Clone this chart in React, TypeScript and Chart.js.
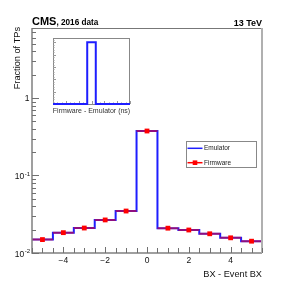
import React, { useEffect, useRef } from 'react';
import { Chart, registerables } from 'chart.js';

Chart.register(...registerables);

// ---- data ----
const binCenters = [-5, -4, -3, -2, -1, 0, 1, 2, 3, 4, 5];
const emulatorValues = [0.0149, 0.0183, 0.021, 0.0267, 0.0348, 0.375, 0.0209, 0.0198, 0.0177, 0.0157, 0.0142];
const firmwareValues = [0.0149, 0.0183, 0.021, 0.0267, 0.0348, 0.375, 0.0209, 0.0198, 0.0177, 0.0157, 0.0142];
const seriesNames = ['Emulator', 'Firmware'];
const xTickValues = [-4, -2, 0, 2, 4];
const yTickValues = [0.01, 0.1, 1];
const yTickBases = ['10', '10', '1'];
const yTickExps = ['-2', '-1', ''];
const insetCenters = [-4, -3, -2, -1, 0, 1, 2, 3, 4];
const insetValues = [0, 0, 0, 0, 1, 0, 0, 0, 0];

const FONT = '"Liberation Sans", Arial, Helvetica, sans-serif';
const BLUE = 'rgb(30,30,255)';
const RED = 'rgb(255,0,0)';

function stepPoints(centers: number[], values: number[]) {
  const pts = centers.map((c, i) => ({ x: c - 0.5, y: values[i] }));
  pts.push({ x: centers[centers.length - 1] + 0.5, y: values[values.length - 1] });
  return pts;
}

function barSegments(centers: number[], values: number[]) {
  const pts: { x: number; y: number | null }[] = [];
  centers.forEach((c, i) => {
    pts.push({ x: c - 0.5, y: values[i] });
    pts.push({ x: c + 0.5, y: values[i] });
    pts.push({ x: c + 0.5, y: null });
  });
  return pts;
}

const mainDecor = {
  id: 'mainDecor',
  afterDraw(chart: any) {
    const ctx = chart.ctx;
    const { left, right, top, bottom } = chart.chartArea;
    const xs = chart.scales.x;
    const ys = chart.scales.y;
    ctx.save();
    // frame
    ctx.strokeStyle = '#808080';
    ctx.lineWidth = 1.5;
    ctx.beginPath();
    ctx.moveTo(left, top);
    ctx.lineTo(left, bottom);
    ctx.lineTo(right, bottom);
    ctx.stroke();
    ctx.lineWidth = 1;
    ctx.strokeStyle = '#777';
    ctx.beginPath();
    ctx.moveTo(left, top + 0.5);
    ctx.lineTo(right, top + 0.5);
    ctx.stroke();
    ctx.lineWidth = 2;
    ctx.strokeStyle = '#b0b0b0';
    ctx.beginPath();
    ctx.moveTo(right, top);
    ctx.lineTo(right, bottom);
    ctx.stroke();

    // x ticks (inside)
    ctx.strokeStyle = '#707070';
    ctx.lineWidth = 1;
    for (let v = -5.5; v <= 5.5001; v += 0.5) {
      const px = Math.round(xs.getPixelForValue(v)) + 0.5;
      const len = Math.abs(v % 2) < 1e-6 ? 6 : 5;
      ctx.beginPath();
      ctx.moveTo(px, bottom);
      ctx.lineTo(px, bottom - len);
      ctx.stroke();
    }
    // y ticks (inside)
    for (let d = -2; d <= 0; d++) {
      for (let m = 1; m <= 9; m++) {
        const v = m * Math.pow(10, d);
        if (v > ys.max) continue;
        const py = Math.round(ys.getPixelForValue(v)) + 0.5;
        const len = m === 1 ? 7 : 4;
        ctx.beginPath();
        ctx.moveTo(left, py);
        ctx.lineTo(left + len, py);
        ctx.stroke();
      }
    }

    // y tick labels with superscripts
    ctx.fillStyle = '#111';
    ctx.textBaseline = 'alphabetic';
    ctx.textAlign = 'left';
    yTickValues.forEach((v, i) => {
      const py = ys.getPixelForValue(v);
      const base = yTickBases[i];
      const exp = yTickExps[i];
      ctx.font = `6px ${FONT}`;
      const we = exp ? ctx.measureText(exp).width : 0;
      ctx.font = `8.5px ${FONT}`;
      const wb = ctx.measureText(base).width;
      const rightEdge = 30;
      if (exp) {
        ctx.fillText(base, rightEdge - we - wb - 0.5, py + 4);
        ctx.font = `6px ${FONT}`;
        ctx.fillText(exp, rightEdge - we, py + 0.3);
      } else {
        ctx.fillText(base, rightEdge - wb - 0.5, py + 3);
      }
    });

    // titles
    ctx.fillStyle = '#111';
    ctx.font = `9.2px ${FONT}`;
    ctx.textAlign = 'right';
    ctx.fillText('BX - Event BX', right, 276.5);
    ctx.save();
    ctx.translate(19.5, top - 1);
    ctx.rotate(-Math.PI / 2);
    ctx.textAlign = 'right';
    ctx.fillText('Fraction of TPs', 0, 0);
    ctx.restore();

    ctx.fillStyle = '#000';
    ctx.textAlign = 'left';
    ctx.font = `bold 11px ${FONT}`;
    ctx.fillText('CMS', left, 25.2);
    const wc = ctx.measureText('CMS').width;
    ctx.font = `bold 8.2px ${FONT}`;
    ctx.fillText(', 2016 data', left + wc, 25.2);
    ctx.textAlign = 'right';
    ctx.font = `bold 9px ${FONT}`;
    ctx.fillText('13 TeV', right, 25.8);

    // legend
    const lx = 186, ly = 141, lw = 70, lh = 26;
    ctx.fillStyle = '#fff';
    ctx.fillRect(lx, ly, lw, lh);
    ctx.strokeStyle = '#888';
    ctx.lineWidth = 1;
    ctx.strokeRect(lx + 0.5, ly + 0.5, lw, lh);
    const rows = [148.3, 162.7];
    ctx.lineWidth = 1.5;
    ctx.strokeStyle = BLUE;
    ctx.beginPath();
    ctx.moveTo(187.5, rows[0]);
    ctx.lineTo(202.5, rows[0]);
    ctx.stroke();
    ctx.strokeStyle = RED;
    ctx.beginPath();
    ctx.moveTo(187.5, rows[1]);
    ctx.lineTo(202.5, rows[1]);
    ctx.stroke();
    ctx.fillStyle = RED;
    ctx.fillRect(195 - 2.3, rows[1] - 2.3, 4.6, 4.6);
    ctx.fillStyle = '#222';
    ctx.textAlign = 'left';
    ctx.textBaseline = 'middle';
    ctx.font = `6.5px ${FONT}`;
    ctx.fillText(seriesNames[0], 204, rows[0] + 0.3);
    ctx.fillText(seriesNames[1], 204, rows[1] + 0.3);
    ctx.restore();
  },
};

const insetDecor = {
  id: 'insetDecor',
  beforeDatasetsDraw(chart: any) {
    const ctx = chart.ctx;
    const { left, right, top, bottom } = chart.chartArea;
    const xs = chart.scales.x;
    const ys = chart.scales.y;
    ctx.save();
    ctx.fillStyle = '#fff';
    ctx.fillRect(left, top, right - left, bottom - top);
    ctx.strokeStyle = '#888';
    ctx.lineWidth = 1;
    ctx.strokeRect(left + 0.5, top + 0.5, right - left - 1, bottom - top);
    ctx.strokeStyle = '#999';
    for (let v = 0; v <= ys.max + 1e-6; v += 0.04) {
      const py = Math.round(ys.getPixelForValue(v)) + 0.5;
      const major = Math.abs(Math.round(v / 0.2) * 0.2 - v) < 1e-6;
      ctx.beginPath();
      ctx.moveTo(left, py);
      ctx.lineTo(left + (major ? 3 : 1.5), py);
      ctx.stroke();
    }
    for (let v = -4.5; v <= 4.5 + 1e-6; v += 0.5) {
      const px = Math.round(xs.getPixelForValue(v)) + 0.5;
      const major = Math.abs(Math.round(v / 1.5) * 1.5 - v) < 1e-6;
      ctx.beginPath();
      ctx.moveTo(px, bottom);
      ctx.lineTo(px, bottom - (major ? 3 : 1.5));
      ctx.stroke();
    }
    ctx.restore();
  },
  afterDraw(chart: any) {
    const ctx = chart.ctx;
    const { left, right, bottom } = chart.chartArea;
    ctx.save();
    ctx.fillStyle = '#333';
    ctx.font = `7px ${FONT}`;
    ctx.textAlign = 'center';
    ctx.textBaseline = 'alphabetic';
    ctx.fillText('Firmware - Emulator (ns)', (left + right) / 2, bottom + 9);
    ctx.restore();
  },
};

export default function App() {
  const mainRef = useRef<HTMLCanvasElement>(null);
  const insetRef = useRef<HTMLCanvasElement>(null);

  useEffect(() => {
    const main = new Chart(mainRef.current!, {
      type: 'line',
      data: {
        datasets: [
          {
            label: seriesNames[1] + ' markers',
            data: binCenters.map((c, i) => ({ x: c, y: firmwareValues[i] })),
            showLine: false,
            pointStyle: 'rect',
            pointRadius: 3.4,
            pointBackgroundColor: RED,
            pointBorderWidth: 0,
            borderColor: RED,
          },
          {
            label: seriesNames[1],
            data: barSegments(binCenters, firmwareValues),
            borderColor: 'rgba(255,0,0,0.5)',
            borderWidth: 2,
            pointRadius: 0,
            spanGaps: false,
          },
          {
            label: seriesNames[0],
            data: stepPoints(binCenters, emulatorValues),
            borderColor: BLUE,
            borderWidth: 2,
            pointRadius: 0,
            stepped: true,
          },
        ],
      },
      options: {
        responsive: false,
        animation: false,
        events: [],
        layout: { padding: { top: 28, right: 29, left: 0, bottom: 0 } },
        plugins: { legend: { display: false }, tooltip: { enabled: false } },
        scales: {
          x: {
            type: 'linear',
            min: -5.5,
            max: 5.5,
            grid: { display: false, drawTicks: false },
            border: { display: false },
            afterBuildTicks: (s: any) => {
              s.ticks = xTickValues.map((v) => ({ value: v }));
            },
            afterFit: (s: any) => {
              s.height = 29;
            },
            ticks: {
              padding: 3,
              maxRotation: 0,
              autoSkip: false,
              color: '#111',
              font: { family: FONT, size: 8.5 },
              callback: (v: any) => (Number(v) < 0 ? '\u2212' + Math.abs(Number(v)) : String(v)),
            },
          },
          y: {
            type: 'logarithmic',
            min: 0.01,
            max: 8,
            grid: { display: false, drawTicks: false },
            border: { display: false },
            ticks: { display: false },
            afterFit: (s: any) => {
              s.width = 32;
            },
          },
        },
      },
      plugins: [mainDecor],
    } as any);

    const inset = new Chart(insetRef.current!, {
      type: 'line',
      data: {
        datasets: [
          {
            label: 'Firmware - Emulator',
            data: stepPoints(insetCenters, insetValues),
            borderColor: BLUE,
            borderWidth: 2,
            pointRadius: 0,
            stepped: true,
            clip: false,
          },
        ],
      },
      options: {
        responsive: false,
        animation: false,
        events: [],
        layout: { padding: { top: 3, left: 3, right: 5, bottom: 11 } },
        plugins: { legend: { display: false }, tooltip: { enabled: false } },
        scales: {
          x: { type: 'linear', min: -4.5, max: 4.5, display: false },
          y: { type: 'linear', min: 0, max: 1.07, display: false },
        },
      },
      plugins: [insetDecor],
    } as any);

    return () => {
      main.destroy();
      inset.destroy();
    };
  }, []);

  return (
    <div style={{ position: 'absolute', left: 0, top: 0, width: 291, height: 282, background: '#fff' }}>
      <canvas ref={mainRef} width={291} height={282} style={{ position: 'absolute', left: 0, top: 0, width: 291, height: 282 }} />
      <canvas ref={insetRef} width={85} height={80} style={{ position: 'absolute', left: 50, top: 35, width: 85, height: 80 }} />
    </div>
  );
}
